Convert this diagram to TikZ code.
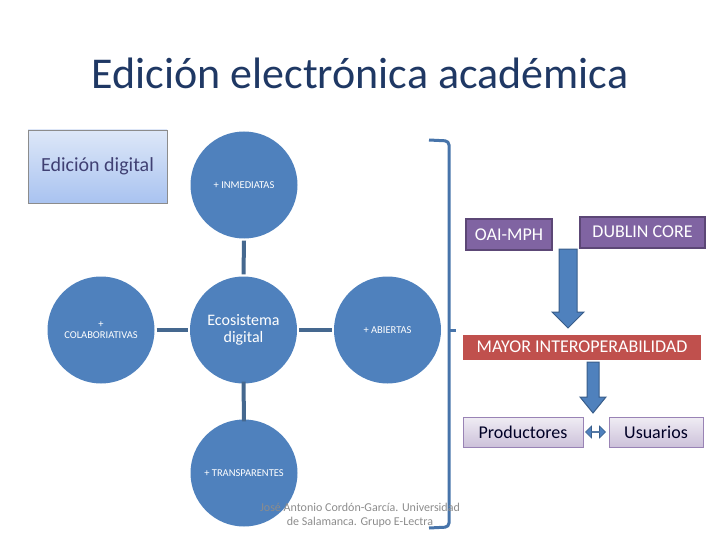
\documentclass[tikz,border=0pt]{standalone}
\usepackage{fontspec}
\setmainfont{Carlito}
\usetikzlibrary{shapes.arrows}
\definecolor{circ}{HTML}{4F81BD}
\definecolor{conn}{HTML}{45688F}
\definecolor{purp}{HTML}{8064A2}
\definecolor{purpd}{HTML}{5C4776}
\definecolor{redb}{HTML}{C0504D}
\definecolor{arrd}{HTML}{385D8A}
\definecolor{edtop}{HTML}{DDE7F8}
\definecolor{edbot}{HTML}{A9C3F0}
\tikzset{
  bubble/.style={circle,fill=circ,minimum size=107pt,inner sep=0pt,text=white,align=center,font=\fontsize{10.5}{11}\selectfont},
  link/.style={draw=conn,line width=4pt},
  purpbox/.style={fill=purp,draw=purpd,line width=1.5pt,text=white,font=\fontsize{18}{20}\selectfont,inner sep=0pt},
  lavbox/.style={top color=purp!12,bottom color=purp!40,draw=purp!80,line width=0.8pt,text=black!85!blue,font=\fontsize{18}{20}\selectfont,inner sep=0pt},
  blockarrow/.style={fill=circ,draw=arrd,line width=1pt}
}
\begin{document}
\begin{tikzpicture}[x=1pt,y=-1pt]
\useasboundingbox (0,0) rectangle (720,540);
\node (title) at (360,73) {\fontsize{44}{48}\selectfont\color[HTML]{1F3864}Edición electrónica académica};
\node[draw=black!45,line width=0.8pt,top color=edtop,bottom color=edbot,minimum width=139pt,minimum height=73pt,inner sep=0pt,
  text=black!60!blue!50!gray,font=\fontsize{20}{22}\selectfont] (ed) at (97.5,166.5) {Edición digital};
% circles
\node[bubble] (top) at (244,185) {+ INMEDIATAS};
\node[bubble] (left) at (101,330) {+\\COLABORIATIVAS};
\node[bubble,font=\fontsize{16}{17}\selectfont] (mid) at (243.5,330) {Ecosistema\\digital};
\node[bubble] (right) at (387.5,330) {+ ABIERTAS};
\node[bubble] (bot) at (244,473) {+ TRANSPARENTES};
% connectors
\draw[link] ([yshift=-2pt]top.south) -- ([yshift=2pt]mid.north);
\draw[link] ([xshift=2pt]left.east) -- ([xshift=-2pt]mid.west);
\draw[link] ([xshift=2pt]mid.east) -- ([xshift=-2pt]right.west);
\draw[link] ([yshift=2pt]mid.south) -- ([yshift=-2pt]bot.north);
% bracket
\coordinate (b1) at (429,140);
\coordinate (b2) at (429,528);
\coordinate (bn) at (456,330);
\draw[draw=circ!90!black,line width=3pt,rounded corners=4pt] (b1) -- (449,141) -- (449,527) -- (b2);
\draw[draw=circ!90!black,line width=3pt] (449,330) -- (bn);
% right side boxes
\node[purpbox,minimum width=86pt,minimum height=31pt] (oai) at (509,234.5) {OAI-MPH};
\node[purpbox,minimum width=125pt,minimum height=31pt] (dub) at (642.5,232.5) {\raisebox{2pt}{DUBLIN CORE}};
\node[fill=redb,text=white,minimum width=238pt,minimum height=25pt,inner sep=0pt,font=\fontsize{18}{20}\selectfont] (may) at (582,347) {MAYOR INTEROPERABILIDAD};
\node[lavbox,minimum width=120pt,minimum height=30pt] (prod) at (523,432) {Productores};
\node[lavbox,minimum width=94pt,minimum height=30pt] (usu) at (656,432) {Usuarios};
% block arrows
\draw[blockarrow] (559,249) -- (577,249) -- (577,312) -- (584,312) -- (568,328) -- (552,312) -- (559,312) -- cycle;
\draw[blockarrow] (587,362) -- (599,362) -- (599,397) -- (606,397) -- (593,413) -- (580,397) -- (587,397) -- cycle;
\node[double arrow,fill=circ,draw=arrd,line width=0.6pt,minimum width=12pt,minimum height=20pt,double arrow head extend=2.5pt,inner sep=0pt] (dbl) at (595.5,432) {};
% footer
\node[text=black!45,align=center,font=\fontsize{12}{14}\selectfont] (foot) at (360,515) {José Antonio Cordón-García. Universidad\\de Salamanca. Grupo E-Lectra};
\end{tikzpicture}
\end{document}
